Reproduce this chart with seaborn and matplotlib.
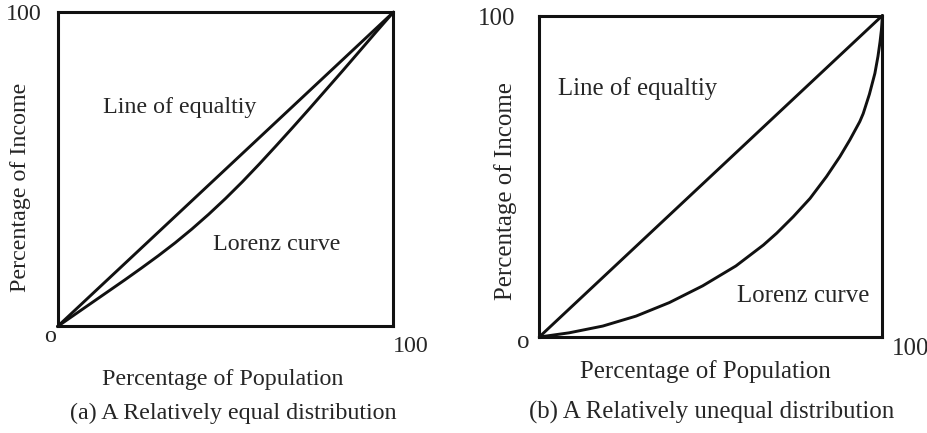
import matplotlib
matplotlib.use('Agg')
import matplotlib.pyplot as plt
import seaborn as sns

# line of equality (same for both panels)
equal_x = [0, 100]
equal_y = [0, 100]

# (a) relatively equal distribution - Lorenz curve
lorenz_a_x = [0, 5, 10, 15, 20, 25, 30, 35, 40, 45, 50, 55, 60, 65, 70, 75, 80, 85, 90, 95, 100]
lorenz_a_y = [0, 3.7, 7.4, 11.1, 14.8, 18.6, 22.5, 26.6, 31.0, 35.7, 40.7, 46.0, 51.6,
              57.4, 63.3, 69.3, 75.4, 81.5, 87.7, 93.9, 100]

# (b) relatively unequal distribution
lorenz_b_x = [0, 8.7, 18.5, 28.2, 37.9, 47.6, 57.3, 65.3, 69.2, 74.0, 78.9, 83.7, 87.6,
              90.5, 93.4, 94.4, 96.2, 97.8, 98.7, 99.3, 99.7, 100]
lorenz_b_y = [0, 1.3, 3.4, 6.5, 10.7, 15.9, 22.1, 28.6, 32.3, 37.4, 43.1, 49.9, 56.1,
              61.3, 67.0, 69.5, 75.5, 82.0, 87.3, 91.8, 95.5, 100]

axis_ticks = ['o', '100', '100']
xlabel = 'Percentage of Population'
ylabel = 'Percentage of Income'
curve_labels = ['Line of equaltiy', 'Lorenz curve']
captions = ['(a) A Relatively equal distribution', '(b) A Relatively unequal distribution']

sns.set_style('white')
plt.rcParams['font.family'] = ['Liberation Serif', 'DejaVu Serif']

fig = plt.figure(figsize=(9.28, 4.33), dpi=100)
ax_a = fig.add_axes([0.062, 0.246, 0.362, 0.726])
ax_b = fig.add_axes([0.5811, 0.2217, 0.3698, 0.7425])

panels = [
    dict(ax=ax_a, lx=lorenz_a_x, ly=lorenz_a_y, fs=17.3,
         top=(-0.047, 0.975), orig=(-0.022, -0.048), right=(0.999, -0.080),
         eq=(0.1345, 0.680), lz=(0.462, 0.243), xl=(0.491, -0.186),
         cap=(0.522, -0.295), yl=(-0.109, 0.4436)),
    dict(ax=ax_b, lx=lorenz_b_x, ly=lorenz_b_y, fs=17.9,
         top=(-0.071, 0.970), orig=(-0.0475, -0.034), right=(1.027, -0.056),
         eq=(0.0554, 0.753), lz=(0.577, 0.110), xl=(0.485, -0.129),
         cap=(0.502, -0.253), yl=(-0.0976, 0.4548)),
]

for i, p in enumerate(panels):
    ax = p['ax']
    sns.lineplot(x=equal_x, y=equal_y, ax=ax, color='#111111', lw=2.1,
                 clip_on=False, solid_capstyle='round')
    sns.lineplot(x=p['lx'], y=p['ly'], ax=ax, color='#111111', lw=2.1,
                 clip_on=False, solid_capstyle='round', solid_joinstyle='round', sort=False)
    ax.set_xlim(0, 100)
    ax.set_ylim(0, 100)
    ax.set_xticks([])
    ax.set_yticks([])
    ax.set_xlabel('')
    ax.set_ylabel('')
    for s in ax.spines.values():
        s.set_visible(True)
        s.set_color('#111111')
        s.set_linewidth(2.2)

    fs = p['fs']
    t = ax.transAxes
    ax.text(*p['top'], axis_ticks[1], transform=t, ha='right', va='baseline', fontsize=fs)
    ax.text(*p['orig'], axis_ticks[0], transform=t, ha='center', va='baseline', fontsize=fs)
    ax.text(*p['right'], axis_ticks[2], transform=t, ha='left', va='baseline', fontsize=fs)
    ax.text(*p['eq'], curve_labels[0], transform=t, ha='left', va='baseline', fontsize=fs)
    ax.text(*p['lz'], curve_labels[1], transform=t, ha='left', va='baseline', fontsize=fs)
    ax.text(*p['xl'], xlabel, transform=t, ha='center', va='baseline', fontsize=fs)
    ax.text(*p['cap'], captions[i], transform=t, ha='center', va='baseline', fontsize=fs)
    ax.text(*p['yl'], ylabel, transform=t, ha='center', va='center', rotation=90, fontsize=fs)

fig.savefig('out.png', dpi=100, facecolor='white')
